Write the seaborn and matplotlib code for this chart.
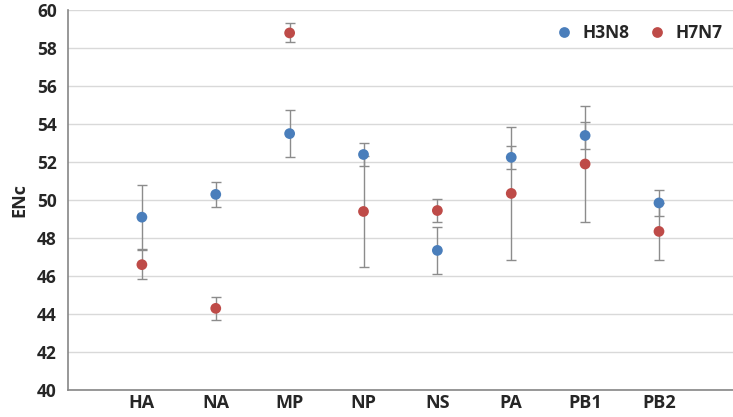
import numpy as np
import pandas as pd
import matplotlib
matplotlib.use("Agg")
import matplotlib.pyplot as plt
import seaborn as sns

# values
genes = ['HA', 'NA', 'MP', 'NP', 'NS', 'PA', 'PB1', 'PB2']
h3n8_enc = [49.1, 50.3, 53.5, 52.4, 47.35, 52.25, 53.4, 49.85]
h3n8_err = [1.7, 0.65, 1.25, 0.62, 1.25, 0.6, 0.7, 0.7]
h7n7_enc = [46.6, 44.3, 58.8, 49.4, 49.45, 50.35, 51.9, 48.35]
h7n7_err = [0.77, 0.6, 0.5, 2.9, 0.62, 3.5, 3.05, 1.5]

df = pd.concat([
    pd.DataFrame({'gene': genes, 'ENc': h3n8_enc, 'err': h3n8_err, 'strain': 'H3N8'}),
    pd.DataFrame({'gene': genes, 'ENc': h7n7_enc, 'err': h7n7_err, 'strain': 'H7N7'}),
])
df['pos'] = df['gene'].map({g: i + 1 for i, g in enumerate(genes)})

sns.set_style('white')
plt.rcParams['font.family'] = ['Open Sans', 'DejaVu Sans']
plt.rcParams['font.weight'] = 'bold'

fig = plt.figure(figsize=(7.33, 4.17), dpi=100)
ax = fig.add_axes([0.0928, 0.0647, 0.907, 0.911])

palette = {'H3N8': '#4A7EBB', 'H7N7': '#BE4B48'}

# error bars first so markers sit on top
for strain, sub in df.groupby('strain'):
    ax.errorbar(sub['pos'], sub['ENc'], yerr=sub['err'], fmt='none',
                ecolor='#8C8C8C', elinewidth=1, capsize=3.5, capthick=1, zorder=2)

sns.scatterplot(data=df, x='pos', y='ENc', hue='strain', palette=palette,
                s=60, edgecolor='none', ax=ax, zorder=3)

ax.set_xlim(0, 9)
ax.set_ylim(40, 60)
ax.set_yticks(np.arange(40, 61, 2))
ax.set_xticks(range(1, len(genes) + 1))
ax.set_xticklabels(genes, fontsize=13, fontweight='bold')
ax.tick_params(axis='y', labelsize=12.5, length=0, pad=8)
ax.tick_params(axis='x', length=0, pad=3)
for lab in ax.get_yticklabels():
    lab.set_fontweight('bold')

ax.grid(axis='y', color='#D9D9D9', linewidth=1)
ax.set_axisbelow(True)
ax.set_xlabel('')
ax.set_ylabel('ENc', fontsize=13, fontweight='bold', labelpad=6)

sns.despine(ax=ax, top=True, right=True)
ax.spines['left'].set_color('#868686')
ax.spines['bottom'].set_color('#868686')
ax.spines['left'].set_linewidth(1.2)
ax.spines['bottom'].set_linewidth(1.2)

leg = ax.legend(loc='upper right', ncol=2, frameon=False, fontsize=12.5,
                handletextpad=0.05, columnspacing=0.6, markerscale=1.0,
                bbox_to_anchor=(1.0, 0.99), borderaxespad=0.2)
for t in leg.get_texts():
    t.set_fontweight('bold')

fig.savefig('out.png', dpi=100)
